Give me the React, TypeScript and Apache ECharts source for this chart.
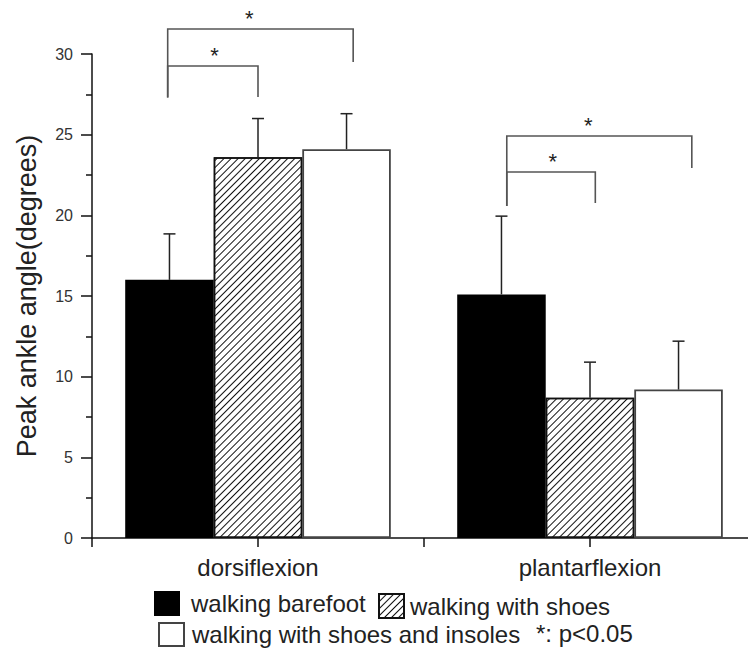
import React, { useEffect, useRef } from "react";
import * as echarts from "echarts";

// Peak ankle angles by gait condition
const categories = ["dorsiflexion", "plantarflexion"];
const seriesNames = [
  "walking barefoot",
  "walking with shoes",
  "walking with shoes and insoles",
];
const barefoot = [16.0, 15.1];
const barefootSD = [2.85, 4.85];
const shoes = [23.6, 8.7];
const shoesSD = [2.4, 2.2];
const insoles = [24.1, 9.2];
const insolesSD = [2.2, 3.0];

const yMin = 0;
const yMax = 30;
const yInterval = 5;

// significance brackets:
// [category, left end, right end (bar widths from category centre), bar height, left foot, right foot, star position along bar]
const brackets = [
  [0, -1.02, 1.075, 31.55, 27.3, 29.5, 0.44],
  [0, -1.02, 0.0, 29.26, 27.3, 27.33, 0.52],
  [1, -0.94, 1.15, 24.92, 20.58, 22.93, 0.44],
  [1, -0.94, 0.06, 22.69, 20.58, 20.76, 0.52],
];
const significanceNote = "*: p<0.05";

const FONT = "'Liberation Sans', Arial, Helvetica, sans-serif";
const BAR_CATEGORY_GAP = 0.2;

export default function App() {
  const ref = useRef<HTMLDivElement>(null);

  useEffect(() => {
    if (!ref.current) return;
    const chart = echarts.init(ref.current, null, { renderer: "svg" });

    const means = [barefoot, shoes, insoles];
    const sds = [barefootSD, shoesSD, insolesSD];
    const errorData: number[][] = [];
    means.forEach((vals, s) =>
      vals.forEach((v, c) => errorData.push([c, s, v, sds[s][c]]))
    );

    const barWidthOf = (api: any) =>
      (api.size([1, 0])[0] * (1 - BAR_CATEGORY_GAP)) / 3;

    const lineStyle = { stroke: "#222", lineWidth: 1.5 };
    const bracketStyle = { stroke: "#555", lineWidth: 1.6, fill: "none" };

    chart.setOption({
      animation: false,
      backgroundColor: "#fff",
      textStyle: { fontFamily: FONT },
      grid: {
        left: 92,
        top: 54,
        width: 664,
        bottom: 114,
        containLabel: false,
        outerBoundsMode: "none",
      },
      xAxis: [
        {
          type: "category",
          data: categories,
          boundaryGap: true,
          axisLine: { lineStyle: { color: "#111", width: 1.5 } },
          axisTick: { show: true, alignWithLabel: false, length: 9, lineStyle: { color: "#111", width: 1.5 } },
          axisLabel: { fontSize: 24, color: "#222", margin: 17, fontFamily: FONT },
        },
        {
          type: "category",
          data: categories,
          position: "bottom",
          boundaryGap: true,
          axisLine: { show: false },
          axisTick: { show: true, alignWithLabel: true, length: 9, lineStyle: { color: "#111", width: 1.5 } },
          axisLabel: { show: false },
        },
      ],
      yAxis: {
        type: "value",
        min: yMin,
        max: yMax,
        interval: yInterval,
        name: "Peak ankle angle(degrees)",
        nameLocation: "middle",
        nameRotate: 90,
        nameGap: 52,
        nameTextStyle: { fontSize: 27, color: "#222", fontFamily: FONT },
        axisLine: { show: true, lineStyle: { color: "#111", width: 1.5 } },
        axisTick: { show: true, length: 11, lineStyle: { color: "#111", width: 1.5 } },
        minorTick: { show: true, splitNumber: 2, length: 6, lineStyle: { color: "#111", width: 1.5 } },
        splitLine: { show: false },
        axisLabel: { fontSize: 16, color: "#333", margin: 19, fontFamily: FONT },
      },
      legend: [
        {
          left: 154,
          top: 591,
          padding: 0,
          itemWidth: 26,
          itemHeight: 25,
          icon: "rect",
          selectedMode: false,
          data: [seriesNames[0]],
          textStyle: { fontSize: 24, color: "#222", padding: [0, 0, 0, 6], fontFamily: FONT },
        },
        {
          left: 378,
          top: 593,
          padding: 0,
          itemWidth: 25,
          itemHeight: 24,
          icon: "rect",
          selectedMode: false,
          data: [seriesNames[1]],
          textStyle: { fontSize: 24, color: "#222", padding: [0, 0, 0, 1], fontFamily: FONT },
        },
        {
          left: 158,
          top: 622,
          padding: 0,
          itemWidth: 25,
          itemHeight: 23,
          icon: "rect",
          selectedMode: false,
          data: [seriesNames[2]],
          textStyle: { fontSize: 24, color: "#222", padding: [0, 0, 0, 3], fontFamily: FONT },
        },
      ],
      graphic: [
        {
          type: "text",
          left: 536,
          top: 621,
          style: { text: significanceNote, fontSize: 24, fill: "#222", fontFamily: FONT },
        },
      ],
      series: [
        {
          name: seriesNames[0],
          type: "bar",
          data: barefoot,
          barGap: "0%",
          barCategoryGap: `${BAR_CATEGORY_GAP * 100}%`,
          itemStyle: { color: "#000", borderColor: "#000", borderWidth: 0 },
        },
        {
          name: seriesNames[1],
          type: "bar",
          data: shoes,
          barGap: "0%",
          barCategoryGap: `${BAR_CATEGORY_GAP * 100}%`,
          itemStyle: {
            color: "#fff",
            borderColor: "#111",
            borderWidth: 1.5,
            decal: {
              symbol: "rect",
              symbolSize: 1,
              dashArrayX: [1, 0],
              dashArrayY: [1, 3.6],
              rotation: -Math.PI / 4,
              color: "#111",
            },
          },
        },
        {
          name: seriesNames[2],
          type: "bar",
          data: insoles,
          barGap: "0%",
          barCategoryGap: `${BAR_CATEGORY_GAP * 100}%`,
          itemStyle: { color: "#fff", borderColor: "#444", borderWidth: 1.8 },
        },
        {
          type: "custom",
          name: "error",
          z: 5,
          data: errorData,
          renderItem: (params: any, api: any) => {
            const cat = api.value(0);
            const s = api.value(1);
            const mean = api.value(2);
            const sd = api.value(3);
            const bw = barWidthOf(api);
            const base = api.coord([cat, mean]);
            const top = api.coord([cat, mean + sd]);
            const x = base[0] + (s - 1) * bw;
            return {
              type: "group",
              children: [
                { type: "line", shape: { x1: x, y1: base[1], x2: x, y2: top[1] }, style: lineStyle },
                { type: "line", shape: { x1: x - 6, y1: top[1], x2: x + 6, y2: top[1] }, style: lineStyle },
              ],
            };
          },
        },
        {
          type: "custom",
          name: "significance",
          z: 5,
          clip: false,
          data: brackets,
          renderItem: (params: any, api: any) => {
            const cat = api.value(0);
            const bw = barWidthOf(api);
            const centre = api.coord([cat, 0])[0];
            const xl = centre + api.value(1) * bw;
            const xr = centre + api.value(2) * bw;
            const yTop = api.coord([cat, api.value(3)])[1];
            const yL = api.coord([cat, api.value(4)])[1];
            const yR = api.coord([cat, api.value(5)])[1];
            const starX = xl + (xr - xl) * api.value(6);
            return {
              type: "group",
              children: [
                {
                  type: "polyline",
                  shape: { points: [[xl, yL], [xl, yTop], [xr, yTop], [xr, yR]] },
                  style: bracketStyle,
                },
                {
                  type: "text",
                  x: starX,
                  y: yTop - 10,
                  style: {
                    text: "*",
                    fontSize: 22,
                    fill: "#222",
                    align: "center",
                    verticalAlign: "middle",
                    fontFamily: FONT,
                  },
                },
              ],
            };
          },
        },
      ],
    });

    return () => chart.dispose();
  }, []);

  return (
    <div
      ref={ref}
      style={{ position: "absolute", left: 0, top: 0, width: 748, height: 652 }}
    />
  );
}
